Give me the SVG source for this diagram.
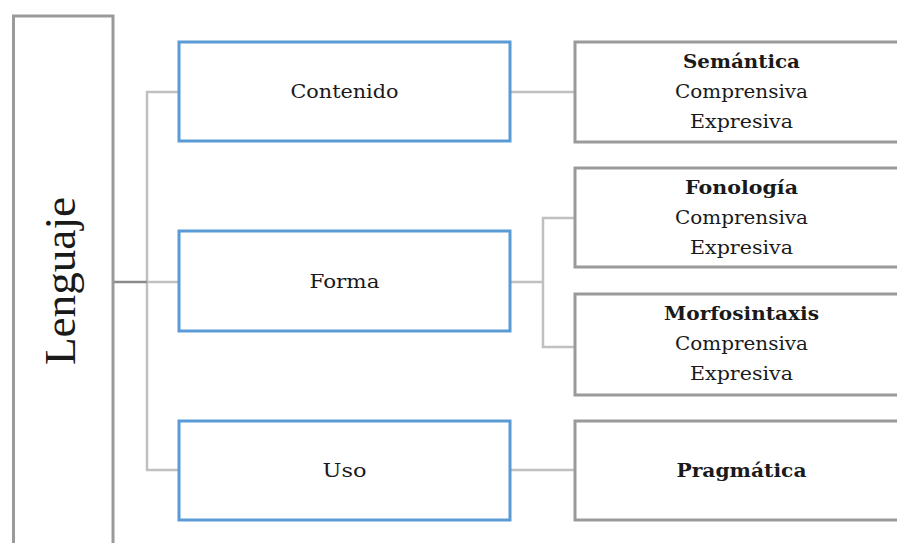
<svg xmlns="http://www.w3.org/2000/svg" width="897" height="543" viewBox="0 0 897 543">
<style>
.blue{fill:#fff;stroke:#5b9bd5;stroke-width:3}
.gray{fill:#fff;stroke:#9a9a9a;stroke-width:3}
.con{fill:none;stroke:#c0c0c0;stroke-width:2.5}
.dark{fill:none;stroke:#8a8a8a;stroke-width:2.5}
text{font-family:"DejaVu Serif","Liberation Serif",serif;font-size:19px;fill:#1a1a1a;text-anchor:middle}
.b{font-weight:bold}
.big{font-family:"Liberation Serif",serif;font-size:45px}
</style>
<rect width="897" height="543" fill="#fff"/>
<g id="connectors">
<path class="con" d="M179,92 H147 V470 H179"/>
<path class="con" d="M147,282 H179"/>
<path class="dark" d="M113,282 H147"/>
<path class="con" d="M510,92 H575"/>
<path class="con" d="M510,282 H543"/>
<path class="con" d="M575,218 H543 V347 H575"/>
<path class="con" d="M510,470 H575"/>
</g>
<g id="lenguaje">
<rect class="gray" x="13.5" y="16" width="99.5" height="540"/>
<text class="big" transform="translate(75,281) rotate(-90)" textLength="168" lengthAdjust="spacingAndGlyphs">Lenguaje</text>
</g>
<g id="contenido">
<rect class="blue" x="179" y="42" width="331" height="99"/>
<text x="344.5" y="98" textLength="108" lengthAdjust="spacingAndGlyphs">Contenido</text>
</g>
<g id="forma">
<rect class="blue" x="179" y="231" width="331" height="100"/>
<text x="344.5" y="288" textLength="70" lengthAdjust="spacingAndGlyphs">Forma</text>
</g>
<g id="uso">
<rect class="blue" x="179" y="421" width="331" height="99"/>
<text x="344.5" y="477" textLength="44" lengthAdjust="spacingAndGlyphs">Uso</text>
</g>
<g id="semantica">
<rect class="gray" x="575" y="42" width="340" height="100"/>
<text class="b" x="741.5" y="68" textLength="117" lengthAdjust="spacingAndGlyphs">Semántica</text>
<text x="741.5" y="98" textLength="133" lengthAdjust="spacingAndGlyphs">Comprensiva</text>
<text x="741.5" y="128" textLength="103" lengthAdjust="spacingAndGlyphs">Expresiva</text>
</g>
<g id="fonologia">
<rect class="gray" x="575" y="168" width="340" height="99"/>
<text class="b" x="741.5" y="194" textLength="113" lengthAdjust="spacingAndGlyphs">Fonología</text>
<text x="741.5" y="224" textLength="133" lengthAdjust="spacingAndGlyphs">Comprensiva</text>
<text x="741.5" y="254" textLength="103" lengthAdjust="spacingAndGlyphs">Expresiva</text>
</g>
<g id="morfosintaxis">
<rect class="gray" x="575" y="294" width="340" height="101"/>
<text class="b" x="741.5" y="320" textLength="155" lengthAdjust="spacingAndGlyphs">Morfosintaxis</text>
<text x="741.5" y="350" textLength="133" lengthAdjust="spacingAndGlyphs">Comprensiva</text>
<text x="741.5" y="380" textLength="103" lengthAdjust="spacingAndGlyphs">Expresiva</text>
</g>
<g id="pragmatica">
<rect class="gray" x="575" y="421" width="340" height="99"/>
<text class="b" x="741.5" y="477" textLength="130" lengthAdjust="spacingAndGlyphs">Pragmática</text>
</g>
</svg>
